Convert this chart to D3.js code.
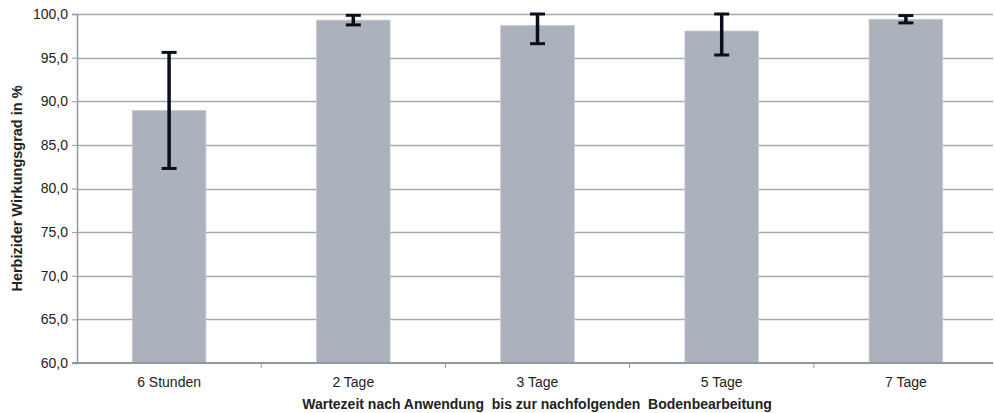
<!DOCTYPE html>
<html>
<head>
<meta charset="utf-8">
<script src="https://cdn.jsdelivr.net/npm/d3@7"></script>
<style>
  body { margin: 0; background: #fff; }
  svg text { font-family: "Liberation Sans", Arial, sans-serif; fill: #222; }
</style>
</head>
<body>
<div id="container"></div>
<script>
"use strict";

const width = 995;
const height = 413;

// chart data
const categories = ["6 Stunden", "2 Tage", "3 Tage", "5 Tage", "7 Tage"];
const means = [88.95, 99.3, 98.7, 98.05, 99.4];
const errors = [6.65, 0.55, 2.1, 2.75, 0.42];
const yTicks = [60, 65, 70, 75, 80, 85, 90, 95, 100];

const yLabel = "Herbizider Wirkungsgrad in %";
const xLabel = "Wartezeit nach Anwendung  bis zur nachfolgenden  Bodenbearbeitung";

const margin = { left: 77, right: 0, top: 14, bottom: 50 };

const svg = d3.select("#container").append("svg")
    .attr("width", width)
    .attr("height", height);

// scales
const x = d3.scaleBand()
    .domain(categories)
    .range([margin.left, 998])
    .paddingInner(0.6)
    .paddingOuter(0.3);

const y = d3.scaleLinear()
    .domain([60, 100])
    .range([363, margin.top]);

const fmt = v => v.toFixed(1).replace(".", ",");

// gridlines
svg.append("g")
    .selectAll("line")
    .data(yTicks.filter(t => t > 60))
    .enter()
    .append("line")
    .attr("x1", margin.left)
    .attr("x2", 993)
    .attr("y1", d => Math.round(y(d)) + 0.5)
    .attr("y2", d => Math.round(y(d)) + 0.5)
    .style("stroke", "#a3aab3")
    .style("stroke-width", 1.3);

// bars
svg.append("g")
    .selectAll("rect")
    .data(categories)
    .enter()
    .append("rect")
    .attr("x", d => x(d))
    .attr("width", x.bandwidth())
    .attr("y", (d, i) => y(means[i]))
    .attr("height", (d, i) => y(60) - y(means[i]))
    .style("fill", "#abb2bb")
    .style("stroke", "#c9ced5")
    .style("stroke-width", 0.8);

// y axis
const yAxis = svg.append("g")
    .attr("transform", "translate(" + margin.left + ",0)")
    .call(d3.axisLeft(y).tickValues(yTicks).tickFormat(fmt).tickSize(5).tickPadding(4));
yAxis.select(".domain").style("stroke", "#8f98a2").style("stroke-width", 1.5);
yAxis.selectAll(".tick line").style("stroke", "#8f98a2");
yAxis.selectAll("text")
    .style("font-family", "'Liberation Sans', Arial, sans-serif")
    .style("font-size", "14px")
    .style("fill", "#222");

// x axis
const xAxis = svg.append("g")
    .attr("transform", "translate(0," + y(60) + ")");
xAxis.append("line")
    .attr("x1", margin.left - 5)
    .attr("x2", 993)
    .attr("y1", 0)
    .attr("y2", 0)
    .style("stroke", "#8f98a2")
    .style("stroke-width", 2);
xAxis.selectAll(".sep")
    .data(categories.slice(1))
    .enter()
    .append("line")
    .attr("class", "sep")
    .attr("x1", d => x(d) - x.step() * x.paddingInner() / 2)
    .attr("x2", d => x(d) - x.step() * x.paddingInner() / 2)
    .attr("y1", 0)
    .attr("y2", 5)
    .style("stroke", "#8f98a2");
xAxis.selectAll("text")
    .data(categories)
    .enter()
    .append("text")
    .attr("x", d => x(d) + x.bandwidth() / 2)
    .attr("y", 24)
    .attr("text-anchor", "middle")
    .style("font-size", "14px")
    .text(d => d);

// error bars (clipped at axis maximum)
const eb = svg.append("g");
categories.forEach((c, i) => {
    const cx = x(c) + x.bandwidth() / 2;
    const top = y(Math.min(100, means[i] + errors[i]));
    const bot = y(means[i] - errors[i]);
    eb.append("line")
        .attr("x1", cx).attr("x2", cx)
        .attr("y1", top).attr("y2", bot)
        .style("stroke", "#0b0f1c")
        .style("stroke-width", 3.5);
    [top, bot].forEach(yy => {
        eb.append("line")
            .attr("x1", cx - 7.5).attr("x2", cx + 7.5)
            .attr("y1", yy).attr("y2", yy)
            .style("stroke", "#0b0f1c")
            .style("stroke-width", 3);
    });
});

// axis titles
svg.append("text")
    .attr("transform", "translate(22," + ((y(60) + y(100)) / 2) + ") rotate(-90)")
    .attr("text-anchor", "middle")
    .style("font-size", "14.5px")
    .style("font-weight", "bold")
    .text(yLabel);

svg.append("text")
    .attr("x", 537)
    .attr("y", 409)
    .attr("text-anchor", "middle")
    .style("font-size", "14px")
    .style("font-weight", "bold")
    .attr("xml:space", "preserve")
    .text(xLabel);
</script>
</body>
</html>
